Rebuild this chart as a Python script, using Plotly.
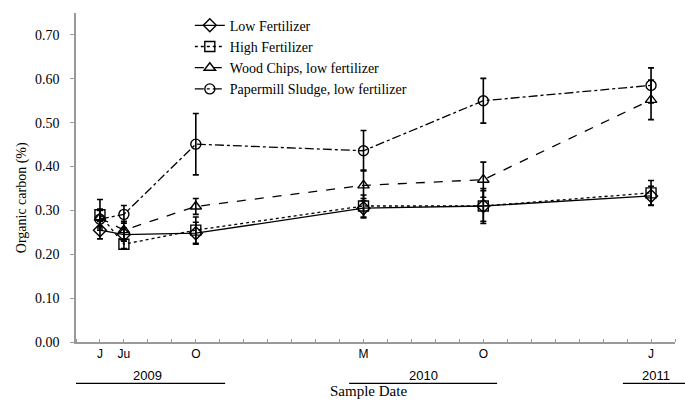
import plotly.graph_objects as go

# month index along the axis (0 = axis start)
x_months = [1, 2, 5, 12, 17, 24]
tick_vals = [1, 2, 5, 12, 17, 24]
tick_text = ["J", "Ju", "O", "M", "O", "J"]
years = ["2009", "2010", "2011"]
year_centers = [3.0, 14.5, 24.2]

series_names = ["Low Fertilizer", "High Fertilizer", "Wood Chips, low fertilizer",
                "Papermill Sludge, low fertilizer"]
low_fert = [0.255, 0.245, 0.248, 0.305, 0.31, 0.333]
low_fert_err = [0.02, 0.015, 0.025, 0.022, 0.04, 0.022]
high_fert = [0.29, 0.223, 0.255, 0.31, 0.31, 0.34]
high_fert_err = [0.035, 0.01, 0.03, 0.025, 0.035, 0.028]
wood_chips = [0.283, 0.255, 0.309, 0.357, 0.37, 0.552]
wood_chips_err = [0.02, 0.02, 0.018, 0.035, 0.04, 0.045]
papermill = [0.28, 0.291, 0.451, 0.436, 0.55, 0.585]
papermill_err = [0.02, 0.02, 0.07, 0.046, 0.051, 0.04]

styles = [
    ("solid", "diamond-open"),
    ("dot", "square-open"),
    ("dash", "triangle-up-open"),
    ("dashdot", "circle-open"),
]
values = [low_fert, high_fert, wood_chips, papermill]
errors = [low_fert_err, high_fert_err, wood_chips_err, papermill_err]

fig = go.Figure()
for name, ys, es, (dash, sym) in zip(series_names, values, errors, styles):
    fig.add_trace(go.Scatter(
        x=x_months, y=ys, name=name, mode="lines+markers",
        line=dict(color="black", width=1.3, dash=dash),
        marker=dict(symbol=sym, size=10, color="black", line=dict(width=1.4, color="black")),
        error_y=dict(type="data", array=es, visible=True, color="black", thickness=1.6, width=3),
    ))

serif = "Liberation Serif, Times New Roman, serif"
sans = "Liberation Sans, Arial, sans-serif"

fig.update_layout(
    width=685, height=401,
    margin=dict(l=76, r=10, t=13, b=59),
    plot_bgcolor="white", paper_bgcolor="white",
    showlegend=True,
    legend=dict(x=0.19, y=1.01, xanchor="left", yanchor="top",
                font=dict(family=serif, size=14, color="black"),
                bgcolor="rgba(0,0,0,0)", tracegroupgap=0, itemwidth=30),
    font=dict(family=serif, color="black"),
)
fig.update_xaxes(
    range=[0, 25], showgrid=False, zeroline=False, automargin=False,
    showline=True, linecolor="#999999", linewidth=1.5,
    tickmode="array", tickvals=tick_vals, ticktext=tick_text,
    ticks="", tickfont=dict(family=sans, size=12, color="black"),
    minor=dict(tickmode="linear", tick0=0, dtick=1, ticks="inside", ticklen=3,
               tickcolor="#999999", tickwidth=1),
)
fig.update_yaxes(
    range=[0, 0.75], showgrid=False, zeroline=False, automargin=False,
    showline=True, linecolor="#999999", linewidth=1.5,
    tickvals=[0, 0.1, 0.2, 0.3, 0.4, 0.5, 0.6, 0.7], tickformat=".2f",
    ticks="outside", ticklen=4, tickcolor="#999999", ticklabelstandoff=8,
    tickfont=dict(family=serif, size=14, color="black"),
)

# y-axis title
fig.add_annotation(x=(22 - 76) / 599, y=0.437, xref="paper", yref="paper", text="Organic carbon (%)",
                   showarrow=False, textangle=-90, xanchor="center", yanchor="middle",
                   font=dict(family=serif, size=14, color="black"))

# year labels and lines beneath the axis
for yr, xc in zip(years, year_centers):
    fig.add_annotation(x=xc, y=-0.103, xref="x", yref="paper", text=yr, showarrow=False,
                       font=dict(family=sans, size=13, color="black"), yanchor="middle")
for x0, x1 in [(0.0, 0.249), (0.456, 0.703), (0.913, 1.02)]:
    fig.add_shape(type="line", xref="paper", yref="paper", x0=x0, x1=x1, y0=-0.126, y1=-0.126,
                  line=dict(color="black", width=1.3))

fig.add_annotation(x=(368 - 76) / 599, y=-0.178, xref="paper", yref="paper", text="Sample Date",
                   showarrow=False, yanchor="bottom", font=dict(family=serif, size=15, color="black"))

fig.write_html("out.html", config={"displayModeBar": False},
               post_script="document.body.style.margin='0';")
